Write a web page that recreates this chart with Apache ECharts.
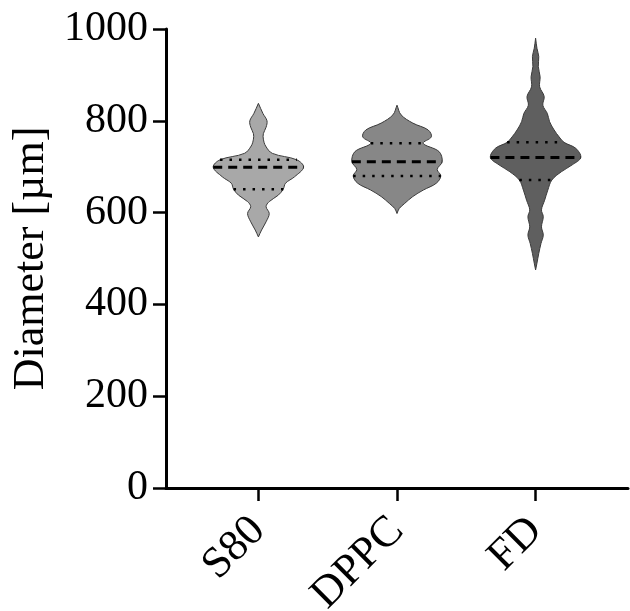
<!DOCTYPE html>
<html lang="en">
<head>
    <meta charset="UTF-8">
    <title>Diameter violin plot</title>
    <script src="https://cdn.jsdelivr.net/npm/echarts@6/dist/echarts.min.js"></script>
</head>
<body style="margin:0">
<div id="main" style="width: 630px;height:611px;"></div>
<script type="text/javascript">

    var categories = ['S80', 'DPPC', 'FD'];
    var yTicks = [0, 200, 400, 600, 800, 1000];

    // violin outlines: diameter value and relative half-width (1 = widest)
    var s80Values = [838, 816, 800, 786, 772, 760, 745, 729, 715, 699, 678, 664, 651, 638, 624, 613, 598, 580, 562, 547];
    var s80Widths = [0, 0.1, 0.19, 0.17, 0.11, 0.11, 0.16, 0.31, 0.85, 1.0, 0.8, 0.6, 0.55, 0.44, 0.24, 0.17, 0.24, 0.17, 0.07, 0];

    var dppcValues = [834, 813, 795, 780, 765, 751, 733, 711, 694, 680, 664, 649, 635, 620, 609, 598];
    var dppcWidths = [0, 0.09, 0.35, 0.69, 0.76, 0.58, 0.93, 1.0, 0.89, 0.97, 0.87, 0.58, 0.35, 0.17, 0.05, 0];

    var fdValues = [980, 958, 940, 918, 896, 874, 853, 834, 816, 798, 780, 765, 753, 740, 720, 704, 689, 671, 649, 627, 606, 591, 569, 551, 533, 511, 490, 475];
    var fdWidths = [0, 0.03, 0.07, 0.06, 0.1, 0.09, 0.19, 0.16, 0.26, 0.31, 0.41, 0.52, 0.63, 0.89, 1.0, 0.81, 0.57, 0.36, 0.27, 0.2, 0.13, 0.17, 0.13, 0.17, 0.12, 0.07, 0.03, 0];

    var medians = [699, 711, 720];
    var upperQuartiles = [715, 751, 753];
    var lowerQuartiles = [651, 680, 671];

    var fills = ['#a8a8a8', '#878787', '#5f5f5f'];

    var profiles = [
        {values: s80Values, widths: s80Widths},
        {values: dppcValues, widths: dppcWidths},
        {values: fdValues, widths: fdWidths}
    ];

    var halfWidth = 0.326; // in category units

    // width of a violin at a given value (linear between outline points)
    function widthAt(p, v) {
        for (var i = 0; i < p.values.length - 1; i++) {
            var a = p.values[i], b = p.values[i + 1];
            if (v <= a && v >= b) {
                var t = (a - v) / (a - b);
                return p.widths[i] + t * (p.widths[i + 1] - p.widths[i]);
            }
        }
        return 0;
    }

    function renderViolin(params, api) {
        var idx = api.value(0);
        var p = profiles[idx];
        var right = [], left = [];
        for (var i = 0; i < p.values.length; i++) {
            var w = p.widths[i] * halfWidth;
            right.push(api.coord([idx + w, p.values[i]]));
            left.unshift(api.coord([idx - w, p.values[i]]));
        }
        var children = [{
            type: 'polygon',
            shape: {points: right.concat(left), smooth: 0.35},
            style: {fill: fills[idx], stroke: '#3a3a3a', lineWidth: 1}
        }];

        function hline(v, dash, lw) {
            var w = widthAt(p, v) * halfWidth;
            var a = api.coord([idx - w, v]);
            var b = api.coord([idx + w, v]);
            return {
                type: 'line',
                shape: {x1: a[0], y1: a[1], x2: b[0], y2: b[1]},
                style: {stroke: '#000', lineWidth: lw, lineDash: dash}
            };
        }

        children.push(hline(upperQuartiles[idx], [2.5, 7], 2.5));
        children.push(hline(lowerQuartiles[idx], [2.5, 7], 2.5));
        children.push(hline(medians[idx], [9, 6], 3));
        return {type: 'group', children: children};
    }

    var myChart = echarts.init(document.getElementById('main'));

    var serif = "'Liberation Serif', 'Times New Roman', serif";

    var option = {
        animation: false,
        grid: {left: 166, right: 2, top: 29, bottom: 123, outerBoundsMode: 'none'},
        xAxis: {
            type: 'value',
            min: -2 / 3,
            max: 8 / 3,
            splitLine: {show: false},
            axisLine: {onZero: false, lineStyle: {color: '#000', width: 3}},
            axisTick: {show: true, customValues: [0, 1, 2], length: 13, lineStyle: {color: '#000', width: 2.5}},
            axisLabel: {
                customValues: [0, 1, 2],
                rotate: 45,
                margin: 36,
                fontFamily: serif,
                fontSize: 44,
                color: '#000',
                formatter: function (v) {
                    return categories[Math.round(v)];
                }
            }
        },
        yAxis: {
            type: 'value',
            min: 0,
            max: 1000,
            interval: 200,
            name: 'Diameter [µm]',
            nameLocation: 'middle',
            nameGap: 105,
            nameTextStyle: {fontFamily: serif, fontSize: 44, color: '#000'},
            splitLine: {show: false},
            axisLine: {show: true, onZero: false, lineStyle: {color: '#000', width: 3}},
            axisTick: {show: true, length: 13, lineStyle: {color: '#000', width: 2.5}},
            axisLabel: {
                margin: 18,
                fontFamily: serif,
                fontSize: 42,
                color: '#000',
                formatter: function (v) {
                    return yTicks.indexOf(v) >= 0 ? String(v) : '';
                }
            }
        },
        series: [{
            type: 'custom',
            renderItem: renderViolin,
            data: [[0], [1], [2]],
            encode: {x: 0},
            clip: false
        }]
    };

    myChart.setOption(option);

</script>
</body>
</html>
